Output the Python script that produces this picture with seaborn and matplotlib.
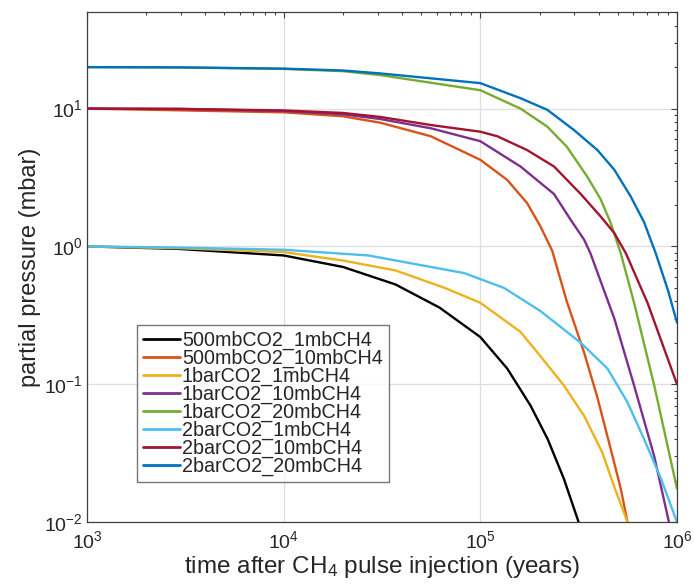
import numpy as np
import pandas as pd
import matplotlib
matplotlib.use("Agg")
import matplotlib.pyplot as plt
import seaborn as sns

# ---- data ----
scenarios = ["500mbCO2_1mbCH4", "500mbCO2_10mbCH4", "1barCO2_1mbCH4",
             "1barCO2_10mbCH4", "1barCO2_20mbCH4", "2barCO2_1mbCH4",
             "2barCO2_10mbCH4", "2barCO2_20mbCH4"]
colors = ["#000000", "#D95319", "#EDB120", "#7E2F8E",
          "#77AC30", "#4DBEEE", "#A2142F", "#0072BD"]

t_500_1 = [1e3, 2.9e3, 1e4, 2e4, 3.7e4, 6.2e4, 1e5, 1.37e5, 1.8e5, 2.2e5, 2.66e5, 3.16e5]
p_500_1 = [1.0, 0.96, 0.86, 0.71, 0.53, 0.36, 0.22, 0.13, 0.07, 0.040, 0.0206, 0.01]

t_500_10 = [1e3, 1e4, 2e4, 3.1e4, 5.6e4, 1e5, 1.37e5, 1.73e5, 2.02e5, 2.32e5,
            2.75e5, 3.37e5, 3.94e5, 4.6e5, 5.18e5, 5.6e5]
p_500_10 = [10.0, 9.4, 8.8, 7.9, 6.3, 4.25, 3.04, 2.06, 1.4, 0.93,
            0.40, 0.17, 0.08, 0.034, 0.0174, 0.01]

t_1b_1 = [1e3, 3e3, 1e4, 2e4, 3.7e4, 6.6e4, 1e5, 1.6e5, 2.02e5, 2.66e5,
          3.37e5, 4.17e5, 4.8e5, 5.6e5]
p_1b_1 = [1.0, 0.97, 0.91, 0.79, 0.67, 0.50, 0.39, 0.24, 0.16, 0.098,
          0.059, 0.032, 0.018, 0.01]

t_1b_10 = [1e3, 3e3, 1e4, 2e4, 3.1e4, 5.6e4, 1e5, 1.6e5, 2.37e5, 2.88e5,
           3.37e5, 3.63e5, 4.8e5, 6.05e5, 7.66e5, 9.1e5]
p_1b_10 = [10.0, 9.95, 9.6, 9.1, 8.4, 7.2, 5.8, 3.8, 2.4, 1.56,
           1.12, 0.89, 0.3, 0.098, 0.030, 0.01]

t_1b_20 = [1e3, 3e3, 1e4, 2e4, 3.1e4, 1e5, 1.6e5, 2.19e5, 2.75e5, 3.5e5,
           4.09e5, 4.6e5, 5.18e5, 6.05e5, 7.66e5, 1e6]
p_1b_20 = [20.0, 19.9, 19.4, 18.7, 17.5, 13.6, 10.0, 7.4, 5.3, 3.2,
           2.2, 1.48, 0.89, 0.39, 0.098, 0.0175]

t_2b_1 = [1e3, 3e3, 1e4, 2.7e4, 8.3e4, 1.32e5, 2.02e5, 3.24e5, 4.43e5,
          5.6e5, 6.8e5, 8.3e5, 1e6]
p_2b_1 = [1.0, 0.98, 0.946, 0.86, 0.64, 0.5, 0.34, 0.2, 0.13,
          0.074, 0.040, 0.0206, 0.01]

t_2b_10 = [1e3, 3e3, 1e4, 2e4, 3.1e4, 5.6e4, 1e5, 1.22e5, 1.73e5, 2.37e5,
           3.24e5, 4.09e5, 4.8e5, 5.5e5, 7.08e5, 1e6]
p_2b_10 = [10.0, 9.95, 9.7, 9.3, 8.7, 7.6, 6.8, 6.3, 5.0, 3.8,
           2.4, 1.65, 1.25, 0.89, 0.39, 0.1]

t_2b_20 = [1e3, 3e3, 1e4, 2e4, 3.1e4, 1e5, 1.6e5, 2.19e5, 2.99e5, 3.94e5,
           4.8e5, 5.82e5, 6.8e5, 7.8e5, 9e5, 1e6]
p_2b_20 = [20.0, 19.9, 19.5, 18.9, 18.0, 15.3, 11.9, 9.8, 7.0, 5.0,
           3.6, 2.3, 1.5, 0.89, 0.48, 0.28]

times = [t_500_1, t_500_10, t_1b_1, t_1b_10, t_1b_20, t_2b_1, t_2b_10, t_2b_20]
pressures = [p_500_1, p_500_10, p_1b_1, p_1b_10, p_1b_20, p_2b_1, p_2b_10, p_2b_20]

frames = [pd.DataFrame({"time": t, "pressure": p, "scenario": s})
          for s, t, p in zip(scenarios, times, pressures)]
df = pd.concat(frames, ignore_index=True)

# ---- style ----
sns.set_style("white")
plt.rcParams["font.family"] = ["Liberation Sans", "DejaVu Sans"]
plt.rcParams["mathtext.fontset"] = "custom"
plt.rcParams["mathtext.rm"] = "Liberation Sans"
plt.rcParams["mathtext.it"] = "Liberation Sans"
plt.rcParams["mathtext.default"] = "regular"
plt.rcParams["axes.unicode_minus"] = False

text_c = "#262626"
fig = plt.figure(figsize=(6.94, 5.84), dpi=100)
ax = fig.add_axes([0.1254, 0.106, 0.8501, 0.873])

sns.lineplot(data=df, x="time", y="pressure", hue="scenario",
             hue_order=scenarios, palette=colors, linewidth=1.7,
             ax=ax, estimator=None, sort=True)

ax.set_xscale("log")
ax.set_yscale("log")
ax.set_xlim(1e3, 1e6)
ax.set_ylim(1e-2, 50)

ax.grid(True, which="major", color="#dedede", linewidth=0.9)
ax.set_axisbelow(True)
for sp in ax.spines.values():
    sp.set_color("#404040")
    sp.set_linewidth(0.9)
    sp.set_visible(True)

ax.xaxis.set_major_locator(matplotlib.ticker.LogLocator(base=10, numticks=10))
ax.yaxis.set_major_locator(matplotlib.ticker.LogLocator(base=10, numticks=10))
ax.xaxis.set_minor_locator(matplotlib.ticker.LogLocator(base=10, subs=np.arange(2, 10), numticks=20))
ax.yaxis.set_minor_locator(matplotlib.ticker.LogLocator(base=10, subs=np.arange(2, 10), numticks=20))
ax.xaxis.set_minor_formatter(matplotlib.ticker.NullFormatter())
ax.yaxis.set_minor_formatter(matplotlib.ticker.NullFormatter())

ax.tick_params(which="both", direction="in", top=True, right=True,
               color="#404040", labelcolor=text_c, width=0.8)
ax.tick_params(which="major", length=4.5, labelsize=14)
ax.tick_params(which="minor", length=2.5)
ax.tick_params(axis="x", which="major", pad=6)
ax.tick_params(axis="y", which="major", pad=3)

ax.set_xlabel("time after CH$_4$ pulse injection (years)", fontsize=17.5,
              color=text_c, labelpad=1)
ax.set_ylabel("partial pressure (mbar)", fontsize=17, color=text_c, labelpad=2)

leg = ax.legend(loc="lower left", bbox_to_anchor=(0.084, 0.078),
                borderaxespad=0, fontsize=14.2, frameon=True, fancybox=False,
                handlelength=1.9, handletextpad=0.1, labelspacing=-0.06,
                borderpad=0.3)
leg.get_frame().set_edgecolor("#555555")
leg.get_frame().set_linewidth(1.0)
for txt in leg.get_texts():
    txt.set_color(text_c)
for ln in leg.get_lines():
    ln.set_linewidth(2.0)

fig.savefig("out.png", dpi=100)
